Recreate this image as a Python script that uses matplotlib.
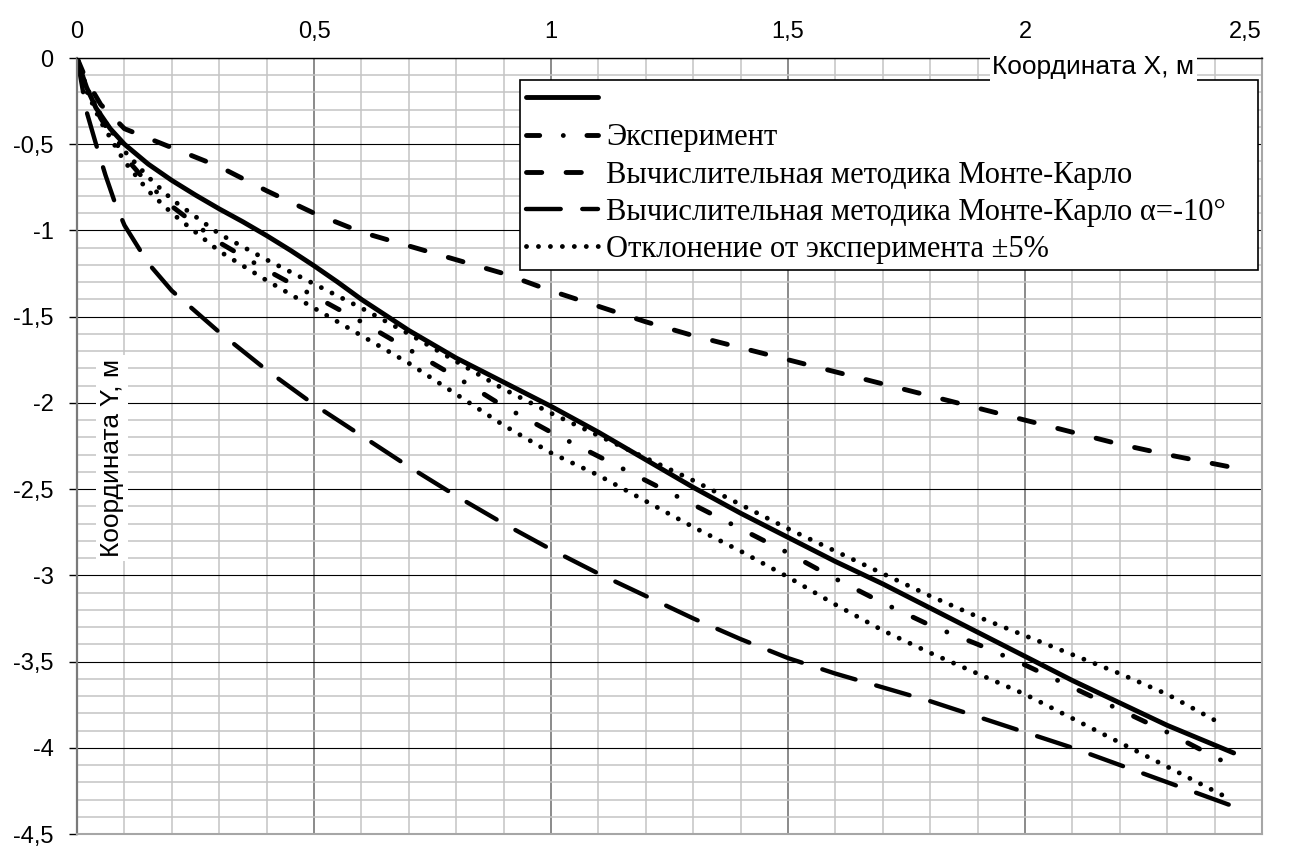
import matplotlib
matplotlib.use('Agg')
from matplotlib import pyplot as plt
from matplotlib.ticker import MultipleLocator

plt.rcParams['lines.scale_dashes'] = False

# расчёт (сплошная линия без подписи)
x_calc = [0, 0.01, 0.02, 0.04, 0.07, 0.1, 0.15, 0.2, 0.25, 0.3, 0.35, 0.4, 0.45, 0.5, 0.55, 0.6, 0.65, 0.7,
          0.8, 0.9, 1.0, 1.1, 1.2, 1.3, 1.4, 1.5, 1.6, 1.7, 1.8, 1.9, 2.0, 2.1, 2.2, 2.3, 2.44]
y_calc = [0, -0.09, -0.17, -0.29, -0.41, -0.50, -0.615, -0.71, -0.795, -0.875, -0.95, -1.03, -1.115, -1.205, -1.30,
          -1.40, -1.49, -1.58, -1.74, -1.88, -2.02, -2.17, -2.33, -2.49, -2.64, -2.78, -2.92, -3.05, -3.19,
          -3.33, -3.47, -3.61, -3.74, -3.87, -4.03]

# эксперимент
x_exp = [0, 0.02, 0.05, 0.1, 0.15, 0.2, 0.3, 0.4, 0.5, 0.6, 0.7, 0.8, 0.9, 1.0,
         1.1, 1.2, 1.3, 1.4, 1.5, 1.6, 1.7, 1.8, 1.9, 2.0, 2.1, 2.2, 2.3, 2.44]
y_exp = [0, -0.18, -0.35, -0.57, -0.73, -0.86, -1.07, -1.23, -1.38, -1.53, -1.69, -1.85, -2.02, -2.17,
         -2.31, -2.45, -2.59, -2.73, -2.87, -3.02, -3.16, -3.29, -3.40, -3.52, -3.65, -3.78, -3.91, -4.11]

# отклонение +-5%
x_dev = [0, 0.02, 0.05, 0.1, 0.15, 0.2, 0.3, 0.4, 0.5, 0.6, 0.7, 0.8, 0.9, 1.0,
         1.1, 1.2, 1.3, 1.4, 1.5, 1.6, 1.7, 1.8, 1.9, 2.0, 2.1, 2.2, 2.3, 2.42]
y_dev_up = [0, -0.17, -0.33, -0.54, -0.69, -0.82, -1.02, -1.17, -1.31, -1.45, -1.60, -1.76, -1.92, -2.06,
            -2.19, -2.32, -2.45, -2.59, -2.73, -2.86, -2.99, -3.12, -3.24, -3.35, -3.46, -3.57, -3.69, -3.87]
y_dev_lo = [0, -0.19, -0.37, -0.60, -0.77, -0.90, -1.12, -1.29, -1.45, -1.61, -1.77, -1.95, -2.13, -2.29,
            -2.42, -2.57, -2.72, -2.86, -3.01, -3.17, -3.32, -3.45, -3.57, -3.69, -3.83, -3.97, -4.11, -4.28]

# Монте-Карло
x_mc = [0, 0.02, 0.05, 0.1, 0.2, 0.3, 0.4, 0.5, 0.6, 0.7, 0.8, 0.9, 1.0,
        1.1, 1.2, 1.3, 1.4, 1.5, 1.6, 1.7, 1.8, 1.9, 2.0, 2.1, 2.2, 2.3, 2.43]
y_mc = [0, -0.13, -0.27, -0.41, -0.52, -0.63, -0.77, -0.90, -1.01, -1.09, -1.17, -1.25, -1.35,
        -1.44, -1.53, -1.61, -1.68, -1.75, -1.82, -1.89, -1.96, -2.03, -2.10, -2.17, -2.24, -2.30, -2.37]

# Монте-Карло, alpha = -10
x_mc10 = [0, 0.02, 0.04, 0.06, 0.08, 0.1, 0.15, 0.2, 0.25, 0.3, 0.4, 0.5, 0.6, 0.7, 0.8, 0.9, 1.0,
          1.1, 1.2, 1.3, 1.4, 1.5, 1.6, 1.7, 1.8, 1.9, 2.0, 2.1, 2.2, 2.3, 2.44]
y_mc10 = [0, -0.31, -0.50, -0.68, -0.84, -0.97, -1.19, -1.35, -1.47, -1.59, -1.81, -2.01, -2.19, -2.37, -2.54, -2.70, -2.85,
          -2.99, -3.12, -3.25, -3.37, -3.48, -3.57, -3.65, -3.73, -3.82, -3.91, -4.00, -4.10, -4.20, -4.34]

labels = ['', 'Эксперимент', 'Вычислительная методика Монте-Карло',
          'Вычислительная методика Монте-Карло α=-10°', 'Отклонение от эксперимента ±5%']

x_ticks = [0, 0.5, 1, 1.5, 2, 2.5]
x_ticklabels = ['0', '0,5', '1', '1,5', '2', '2,5']
y_ticks = [0, -0.5, -1, -1.5, -2, -2.5, -3, -3.5, -4, -4.5]
y_ticklabels = ['0', '-0,5', '-1', '-1,5', '-2', '-2,5', '-3', '-3,5', '-4', '-4,5']

fig = plt.figure(figsize=(12.93, 8.48), dpi=100)
ax = fig.add_axes([0.0596, 0.0165, 0.9165, 0.9151])

lw = 3.5
h_calc, = ax.plot(x_calc, y_calc, color='black', lw=lw, solid_capstyle='round', solid_joinstyle='round')
h_exp, = ax.plot(x_exp, y_exp, color='black', lw=lw,
                 dashes=(9.5, 17.0, 0.01, 17.0), dash_capstyle='round')
h_mc, = ax.plot(x_mc, y_mc, color='black', lw=lw,
                dashes=(11.0, 17.5), dash_capstyle='round')
h_mc10, = ax.plot(x_mc10, y_mc10, color='black', lw=lw * 0.9,
                  dashes=(25.0, 15.5), dash_capstyle='round')
h_dev, = ax.plot(x_dev, y_dev_up, color='black', lw=lw,
                 dashes=(0.01, 8.6), dash_capstyle='round')
ax.plot(x_dev, y_dev_lo, color='black', lw=lw,
        dashes=(0.01, 8.6), dash_capstyle='round')

ax.set_xlim(0, 2.5)
ax.set_ylim(-4.5, 0)

ax.xaxis.tick_top()
ax.set_xticks(x_ticks)
ax.set_xticklabels(x_ticklabels, family='Liberation Sans', fontsize=17)
ax.get_xticklabels()[-1].set_ha('right')
ax.set_yticks(y_ticks)
ax.set_yticklabels(y_ticklabels, family='Liberation Sans', fontsize=17)
ax.xaxis.set_minor_locator(MultipleLocator(0.1))
ax.yaxis.set_minor_locator(MultipleLocator(0.1))

ax.tick_params(axis='x', which='both', length=0, pad=11)
ax.tick_params(axis='y', which='major', length=6, width=1, direction='out', pad=11, color='black')
ax.tick_params(axis='y', which='minor', length=0)

ax.set_axisbelow(True)
ax.grid(which='minor', color='#c4c4c4', lw=1.1)
ax.grid(which='major', axis='x', color='#8a8a8a', lw=1.4)
ax.grid(which='major', axis='y', color='black', lw=0.8)

ax.spines['top'].set_color('black')
ax.spines['top'].set_linewidth(1.0)
ax.spines['left'].set_color('#7a7a7a')
ax.spines['left'].set_linewidth(1.6)
for s in ['right', 'bottom']:
    ax.spines[s].set_color('#a6a6a6')
    ax.spines[s].set_linewidth(1.5)

# подписи осей
ax.text(2.144, -0.052, 'Координата X, м', family='Liberation Sans', fontsize=19,
        ha='center', va='center', zorder=6,
        bbox=dict(facecolor='white', edgecolor='none', pad=1.5))
ax.text(0.074, -2.32, 'Координата Y, м', family='Liberation Sans', fontsize=19,
        ha='center', va='center', rotation=90, zorder=6,
        bbox=dict(facecolor='white', edgecolor='none', pad=3))

leg = ax.legend([h_calc, h_exp, h_mc, h_mc10, h_dev], labels,
                loc='upper left', bbox_to_anchor=(0.374, 0.7307, 0.6226, 0.2409), mode='expand',
                prop={'family': 'Liberation Serif', 'size': 22}, frameon=True, fancybox=False,
                edgecolor='black', framealpha=1, borderaxespad=0, handlelength=2.35,
                handletextpad=0.25, labelspacing=0.27, borderpad=0.2)
leg.get_frame().set_linewidth(1.2)

fig.savefig('out.png', dpi=100)
